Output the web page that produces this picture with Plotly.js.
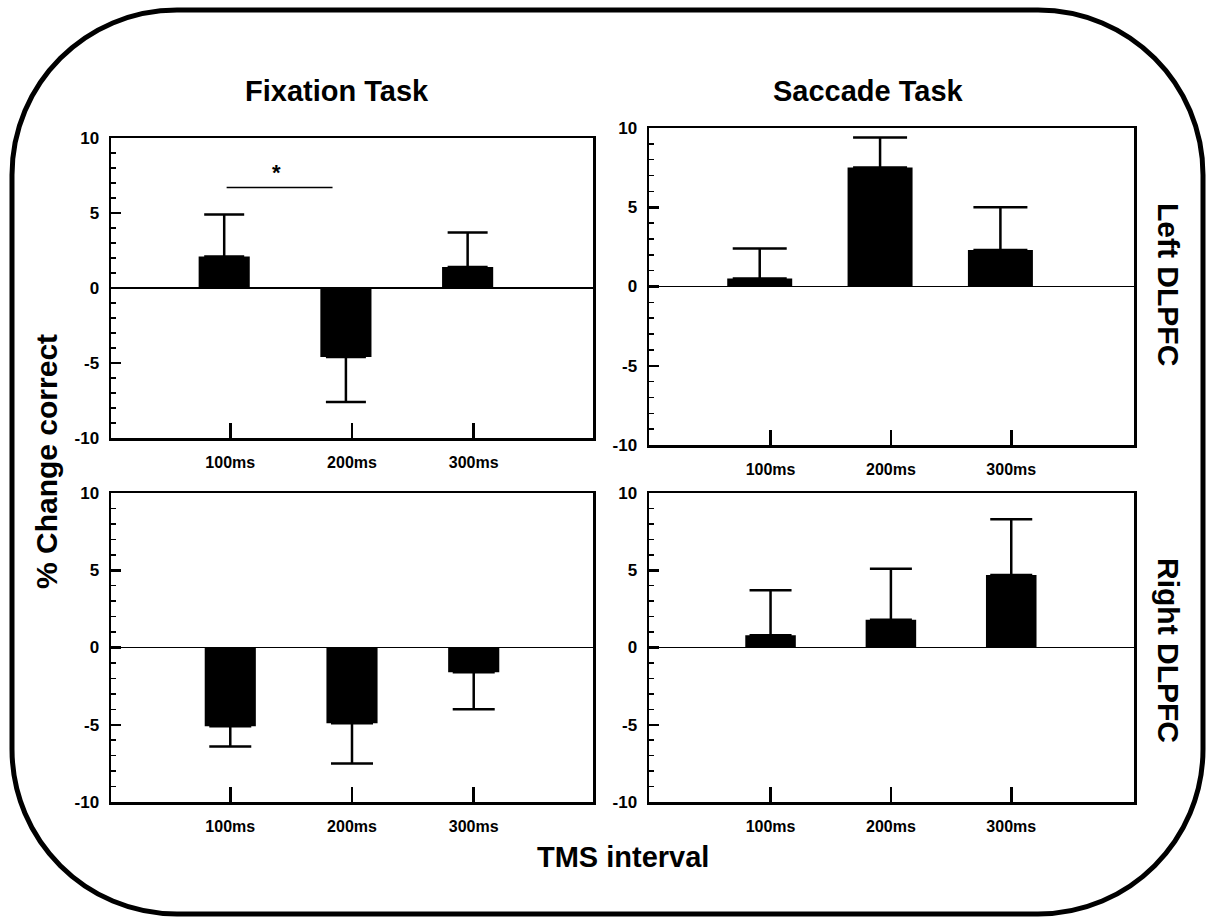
<!DOCTYPE html>
<html>
<head>
<meta charset="utf-8">
<script src="https://cdn.plot.ly/plotly-3.0.1.min.js"></script>
<style>html,body{margin:0;padding:0;background:#fff;}#chart{width:1209px;height:919px;}</style>
</head>
<body>
<div id="chart"></div>
<script>
// ---- data ----
const categories = ['100ms', '200ms', '300ms'];
const fixationLeft = [2.1, -4.6, 1.4];
const fixationLeftErr = [2.8, 3.0, 2.3];
const saccadeLeft = [0.5, 7.5, 2.3];
const saccadeLeftErr = [1.9, 1.9, 2.7];
const fixationRight = [-5.1, -4.9, -1.6];
const fixationRightErr = [1.3, 2.6, 2.4];
const saccadeRight = [0.8, 1.8, 4.7];
const saccadeRightErr = [2.9, 3.3, 3.6];
const yTickVals = [-10, -5, 0, 5, 10];
const yTickText = ['-10', '-5', '0', '5', '10'];
const sigBracket = [-0.03, 0.84, 6.7];   // x from, x to, y (Fixation / Left)
const sigStar = [0.38, 7.7];

// ---- helpers ----
const W = 1209, H = 919;
const px = x => x / W;
const py = y => 1 - y / H;
const FONT = 'Liberation Sans, Arial, Helvetica, sans-serif';

function barTrace(vals, errs, xa, ya, width, offset, capw) {
  const plus = vals.map((v, i) => v >= 0 ? errs[i] : 0);
  const minus = vals.map((v, i) => v < 0 ? errs[i] : 0);
  return {
    type: 'bar', x: categories, y: vals, xaxis: xa, yaxis: ya,
    width: width, offset: offset,
    marker: {color: '#000', line: {width: 0}},
    error_y: {type: 'data', symmetric: false, array: plus, arrayminus: minus,
              color: '#000', thickness: 2.5, width: capw},
    hoverinfo: 'skip'
  };
}

const data = [
  barTrace(fixationLeft, fixationLeftErr, 'x', 'y', 0.42, -0.26, 20),
  barTrace(saccadeLeft, saccadeLeftErr, 'x2', 'y2', 0.54, -0.36, 27),
  barTrace(fixationRight, fixationRightErr, 'x3', 'y3', 0.42, -0.21, 21),
  barTrace(saccadeRight, saccadeRightErr, 'x4', 'y4', 0.42, -0.21, 21)
];

function xAxis(domain, anchor, range) {
  return {
    domain: domain, anchor: anchor, type: 'category', range: range,
    showline: true, linecolor: '#000', linewidth: 2.5, mirror: true,
    ticks: 'inside', ticklen: 15, tickwidth: 2.5, tickcolor: '#000',
    showgrid: false, zeroline: false, fixedrange: true,
    ticklabelstandoff: 8,
    tickfont: {family: FONT, size: 16, color: '#000', weight: 'bold'}
  };
}
function yAxis(domain, anchor) {
  return {
    domain: domain, anchor: anchor, range: [-10, 10],
    tickmode: 'array', tickvals: yTickVals, ticktext: yTickText,
    showline: true, linecolor: '#000', linewidth: 2.5, mirror: true,
    ticks: 'inside', ticklen: 10, tickwidth: 2.5, tickcolor: '#000',
    minor: {tickmode: 'linear', tick0: 0, dtick: 1, ticks: 'inside', ticklen: 5, tickwidth: 1.5, tickcolor: '#000', showgrid: false},
    showgrid: false, zeroline: true, zerolinecolor: '#000', zerolinewidth: 1.8,
    fixedrange: true, ticklabelstandoff: 6,
    tickfont: {family: FONT, size: 17, color: '#000', weight: 'bold'}
  };
}

// rounded frame path (pixel coords -> paper)
const L = 12, R = 1203, T = 10, B = 914, r = 165, k = 0.5523;
const P = (x, y) => px(x) + ',' + py(y);
const framePath =
  'M' + P(L + r, T) + ' L' + P(R - r, T) +
  ' C' + P(R - r + k * r, T) + ' ' + P(R, T + r - k * r) + ' ' + P(R, T + r) +
  ' L' + P(R, B - r) +
  ' C' + P(R, B - r + k * r) + ' ' + P(R - r + k * r, B) + ' ' + P(R - r, B) +
  ' L' + P(L + r, B) +
  ' C' + P(L + r - k * r, B) + ' ' + P(L, B - r + k * r) + ' ' + P(L, B - r) +
  ' L' + P(L, T + r) +
  ' C' + P(L, T + r - k * r) + ' ' + P(L + r - k * r, T) + ' ' + P(L + r, T) + ' Z';

const bigFont = {family: FONT, size: 29, color: '#000', weight: 'bold'};
const sideFont = {family: FONT, size: 30, color: '#000', weight: 'bold'};

const layout = {
  width: W, height: H,
  margin: {l: 0, r: 0, t: 0, b: 0},
  paper_bgcolor: '#fff', plot_bgcolor: '#fff',
  showlegend: false,
  xaxis: xAxis([px(111), px(593)], 'y', [-0.98, 2.98]),
  yaxis: yAxis([py(438), py(138)], 'x'),
  xaxis2: xAxis([px(649), px(1134)], 'y2', [-1.01, 3.02]),
  yaxis2: yAxis([py(445), py(128)], 'x2'),
  xaxis3: xAxis([px(111), px(593)], 'y3', [-0.98, 2.98]),
  yaxis3: yAxis([py(802), py(493)], 'x3'),
  xaxis4: xAxis([px(649), px(1134)], 'y4', [-1.01, 3.02]),
  yaxis4: yAxis([py(802), py(493)], 'x4'),
  shapes: [
    {type: 'path', xref: 'paper', yref: 'paper', path: framePath,
     line: {color: '#000', width: 5}},
    {type: 'line', xref: 'x', yref: 'y', x0: sigBracket[0], x1: sigBracket[1],
     y0: sigBracket[2], y1: sigBracket[2], line: {color: '#000', width: 1.5}}
  ],
  annotations: [
    {text: '*', x: sigStar[0], y: sigStar[1], xref: 'x', yref: 'y', showarrow: false,
     font: {family: FONT, size: 22, color: '#000', weight: 'bold'}, xanchor: 'center', yanchor: 'middle'},
    {text: 'Fixation Task', x: px(337), y: py(91), xref: 'paper', yref: 'paper', showarrow: false,
     font: bigFont, xanchor: 'center', yanchor: 'middle'},
    {text: 'Saccade Task', x: px(868), y: py(91), xref: 'paper', yref: 'paper', showarrow: false,
     font: bigFont, xanchor: 'center', yanchor: 'middle'},
    {text: '% Change correct', x: px(46), y: py(462), xref: 'paper', yref: 'paper', showarrow: false,
     font: sideFont, textangle: -90, xanchor: 'center', yanchor: 'middle'},
    {text: 'TMS interval', x: px(623), y: py(857), xref: 'paper', yref: 'paper', showarrow: false,
     font: bigFont, xanchor: 'center', yanchor: 'middle'},
    {text: 'Left DLPFC', x: px(1169), y: py(284), xref: 'paper', yref: 'paper', showarrow: false,
     font: sideFont, textangle: 90, xanchor: 'center', yanchor: 'middle'},
    {text: 'Right DLPFC', x: px(1169), y: py(650), xref: 'paper', yref: 'paper', showarrow: false,
     font: sideFont, textangle: 90, xanchor: 'center', yanchor: 'middle'}
  ]
};

Plotly.newPlot('chart', data, layout, {displayModeBar: false, staticPlot: true});
</script>
</body>
</html>
